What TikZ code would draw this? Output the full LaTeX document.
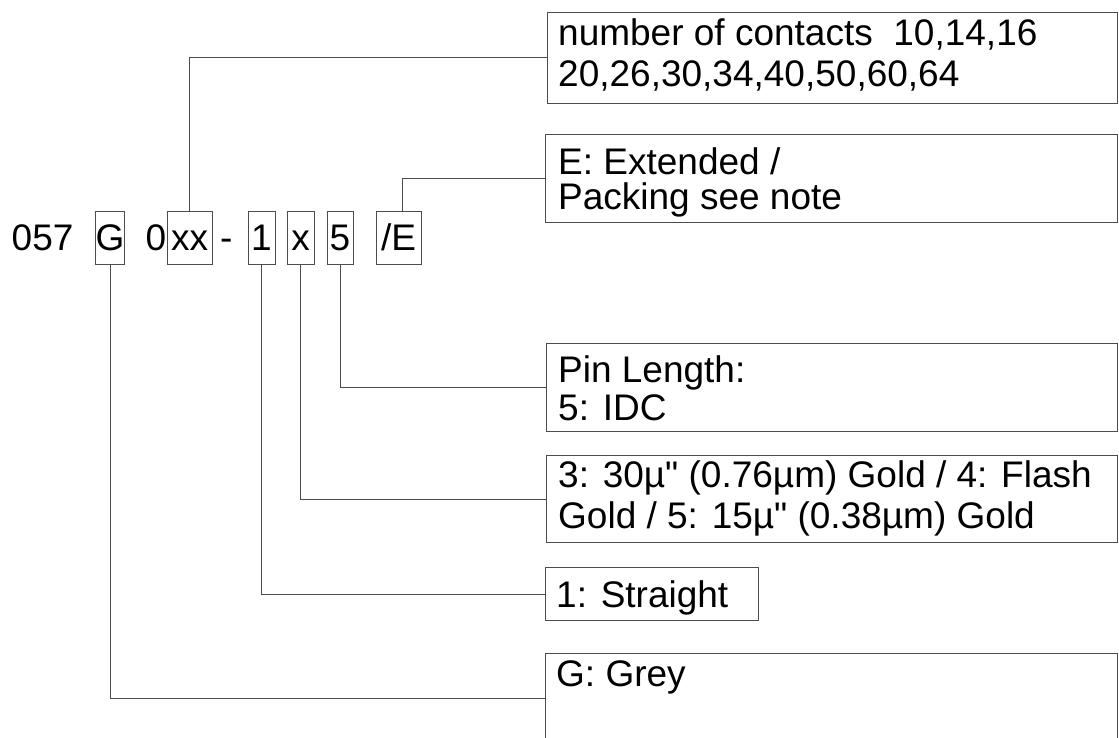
\documentclass[tikz,border=0pt]{standalone}
\usepackage{fontspec}
\setmainfont{Liberation Sans}
\usetikzlibrary{positioning}
\tikzset{codebox/.style={draw=black!70, line width=1pt, inner xsep=0pt, inner ysep=0pt, text height=39pt, text depth=13pt, anchor=base},
	codetext/.style={inner sep=0pt, anchor=base west},
	infobox/.style={draw=black!70, line width=1pt, anchor=north west, inner sep=0pt},
	infotext/.style={inner sep=0pt, anchor=north west, align=left},
	leader/.style={draw=black!70, line width=1pt}}
\begin{document}
\begin{tikzpicture}[x=1pt, y=-1pt, font=\fontsize{37pt}{40pt}\selectfont]
				\useasboundingbox (0,0) rectangle (1119,738);
				
				\node[codetext] (prefix) at (11.5,251) {057};
				\node[codebox, minimum width=26pt] (grey) at (110,251) {G};
				\node[codetext] (zero) at (145.5,251) {0};
				\node[codebox, minimum width=45pt] (contacts) at (189.5,251) {xx};
				\node[codetext] (dash) at (220,251) {-};
				\node[codebox, minimum width=27pt] (style) at (261.5,251) {1};
				\node[codebox, minimum width=27pt] (plating) at (300.5,251) {x};
				\node[codebox, minimum width=26pt] (pin) at (340,251) {5};
				\node[codebox, minimum width=45pt] (packing) at (398.5,251) {/E};
				
				\node[infobox, minimum width=570pt, minimum height=91pt] (contactsbox) at (547,12) {};
				\node[infotext] (contactstext) at (558,18.5) {number of contacts\ \ 10,14,16\\[1pt]20,26,30,34,40,50,60,64};
				
				\node[infobox, minimum width=572pt, minimum height=88pt] (packingbox) at (545,134) {};
				\node[infotext] (packingtext) at (558,147.5) {E: Extended /\\[-5pt]Packing see note};
				
				\node[infobox, minimum width=571pt, minimum height=88pt] (pinbox) at (546,343) {};
				\node[infotext] (pintext) at (558,355) {Pin Length:\\[-2pt]5: IDC};
				
				\node[infobox, minimum width=571pt, minimum height=87pt] (platingbox) at (546,455) {};
				\node[infotext] (platingtext) at (558,460) {3: 30µ\textquotedbl{} (0.76µm) Gold / 4: Flash\\[1pt]Gold / 5: 15µ\textquotedbl{} (0.38µm) Gold};
				
				\node[infobox, minimum width=213pt, minimum height=53pt] (stylebox) at (545,567) {};
				\node[infotext] (styletext) at (556,580) {1: Straight};
				
				\node[infobox, minimum width=572pt, minimum height=90pt] (greybox) at (545,653) {};
				\node[infotext] (greytext) at (556,660) {G: Grey};
				
				\draw[leader] (contacts.north) |- (contactsbox.west);
				\draw[leader] ([xshift=4pt]packing.north) |- (packingbox.west);
				\draw[leader] (pin.south) |- (pinbox.west);
				\draw[leader] (plating.south) |- (platingbox.west);
				\draw[leader] (style.south) |- (stylebox.west);
				\draw[leader] (grey.south) |- (greybox.west);
				
\end{tikzpicture}
\end{document}
